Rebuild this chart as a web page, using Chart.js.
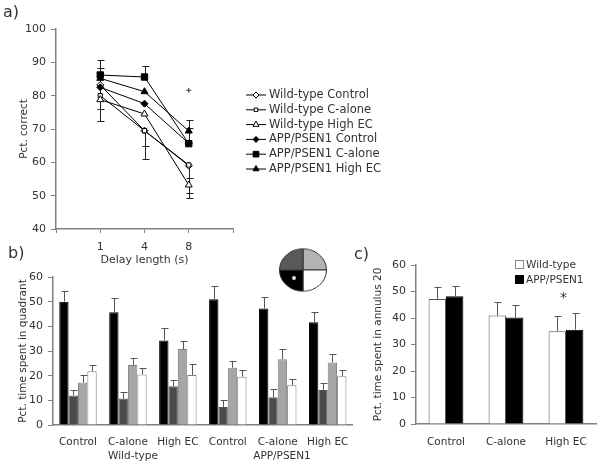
<!DOCTYPE html>
<html>
<head>
<meta charset="utf-8">
<title>Delay and quadrant results</title>
<script src="https://cdn.jsdelivr.net/npm/chart.js@4"></script>
<style>
    html, body { margin: 0; padding: 0; background: #fff; }
    #page { position: relative; width: 601px; height: 465px; overflow: hidden; font-family: "DejaVu Sans", sans-serif; color: #333; }
    canvas { position: absolute; }
    .note { position: absolute; white-space: nowrap; line-height: 1; }
    .panel { font-size: 16px; }
    .small { font-size: 10.5px; }
    .swatch { position: absolute; width: 7px; height: 7px; border: 1px solid #888; }
</style>
</head>
<body>
<div id="page">
    <canvas id="lineChart" width="430" height="272" style="left:0;top:0"></canvas>
    <canvas id="quadrantChart" width="360" height="203" style="left:0;top:262px"></canvas>
    <canvas id="annulusChart" width="241" height="215" style="left:360px;top:250px"></canvas>
    <canvas id="poolChart" width="48" height="48" style="left:279px;top:246px;transform:scaleY(0.9)"></canvas>
    <div id="poolDot" style="position:absolute;left:292px;top:276px;width:4px;height:4px;border-radius:50%;background:#ddd"></div>

    <div class="note panel" style="left:3px;top:4px">a)</div>
    <div class="note panel" style="left:8px;top:245px">b)</div>
    <div class="note panel" style="left:354px;top:246px">c)</div>
    <div class="note small" style="left:133px;top:450px;transform:translateX(-50%)">Wild-type</div>
    <div class="note small" style="left:282px;top:450px;transform:translateX(-50%)">APP/PSEN1</div>
    <div class="swatch" style="left:515px;top:260px;background:#fff"></div>
    <div class="note small" style="left:526px;top:259px">Wild-type</div>
    <div class="swatch" style="left:515px;top:275px;background:#000;border-color:#000"></div>
    <div class="note small" style="left:526px;top:274px">APP/PSEN1</div>
    <div class="note" style="left:560px;top:290px;font-size:14px">*</div>
</div>

<script>
// panel a: delay task
const delayLabels = ["", "1", "4", "8", ""];
const seriesNames = ["Wild-type Control", "Wild-type C-alone", "Wild-type High EC", "APP/PSEN1 Control", "APP/PSEN1 C-alone", "APP/PSEN1 High EC"];
const wtControl = [null, 83.2, 69.5, 59.0, null];
const wtCAlone = [null, 80.0, 69.5, 59.2, null];
const wtHighEc = [null, 78.8, 74.5, 53.2, null];
const appControl = [null, 82.5, 77.6, 65.7, null];
const appCAlone = [null, 86.2, 85.6, 65.6, null];
const appHighEc = [null, 85.2, 81.2, 69.4, null];
const wtControlLow = [null, 76.0, 64.8, 55.3, null];
const wtCAloneLow = [null, 72.3, 61.0, 50.9, null];
const wtHighEcLow = [null, null, null, 49.2, null];
const appControlHigh = [null, 88.2, null, 70.3, null];
const appCAloneHigh = [null, 90.7, 88.8, 72.8, null];
const strayMark = [null, null, null, 81.6, null];

// panel b: quadrant occupancy
const quadrantLabels = ["Control", "C-alone", "High EC", "Control", "C-alone", "High EC"];
const targetQuadrant = [50.0, 45.7, 34.3, 51.0, 47.2, 41.7];
const darkQuadrant = [12.0, 10.7, 15.7, 7.3, 11.2, 14.2];
const midQuadrant = [17.2, 24.3, 30.8, 23.2, 26.7, 25.3];
const lightQuadrant = [21.8, 20.5, 20.3, 19.6, 16.1, 19.8];
const targetTop = [54.5, 51.5, 39.5, 56.5, 52.0, 45.8];
const darkTop = [14.0, 13.2, 18.2, 10.3, 14.4, 17.2];
const midTop = [20.2, 27.3, 33.9, 25.9, 30.8, 28.7];
const lightTop = [24.3, 23.0, 24.7, 22.4, 18.6, 22.2];

// panel c: annulus
const annulusLabels = ["Control", "C-alone", "High EC"];
const annulusWt = [47.2, 40.9, 35.0];
const annulusApp = [48.2, 40.2, 35.6];
const annulusWtTop = [51.7, 45.9, 40.8];
const annulusAppTop = [52.1, 44.8, 41.8];

// pool inset, four equal quadrants
const poolShares = [25, 25, 25, 25];

const textColor = "#333";
const axisColor = "#808080";
const fontFamily = "'DejaVu Sans', sans-serif";
Chart.defaults.font.family = fontFamily;
Chart.defaults.color = textColor;
Chart.defaults.animation = false;

function line(ctx, x1, y1, x2, y2) {
    ctx.beginPath();
    ctx.moveTo(x1, y1);
    ctx.lineTo(x2, y2);
    ctx.stroke();
}

// draws error bars from a value list per dataset index
function errorBars(ends, color, capHalf) {
    return {
        id: "errorBars",
        beforeDatasetsDraw(chart) {
            const ctx = chart.ctx;
            const y = chart.scales.y;
            ctx.save();
            ctx.strokeStyle = color;
            ctx.lineWidth = 1;
            ends.forEach(function (end) {
                const meta = chart.getDatasetMeta(end.dataset);
                end.values.forEach(function (v, i) {
                    if (v === null) return;
                    const x = Math.round(meta.data[i].x) + 0.5;
                    const y1 = Math.round(y.getPixelForValue(v)) + 0.5;
                    const y0 = y.getPixelForValue(chart.data.datasets[end.dataset].data[i]);
                    line(ctx, x, y0, x, y1);
                    line(ctx, x - capHalf, y1, x + capHalf + 1, y1);
                });
            });
            ctx.restore();
        },
    };
}

function fixedScale(width) {
    return function (scale) { scale.width = width; };
}
function fixedHeight(height) {
    return function (scale) { scale.height = height; };
}

function yAxis(max, min, step, title, width) {
    return {
        min: min,
        max: max,
        afterFit: fixedScale(width),
        border: { color: axisColor, width: 1.5 },
        grid: { drawOnChartArea: false, color: axisColor, tickLength: 5, tickWidth: 1 },
        ticks: { stepSize: step, padding: 5, font: { size: 11 }, color: textColor },
        title: { display: true, text: title, font: { size: 10.5 }, color: textColor, padding: 0 },
    };
}

// panel a
const markers = [
    { style: "rectRot", fill: "#fff", radius: 3.5 },
    { style: "rect", fill: "#fff", radius: 3 },
    { style: "triangle", fill: "#fff", radius: 4 },
    { style: "rectRot", fill: "#000", radius: 3.5 },
    { style: "rect", fill: "#000", radius: 4.5 },
    { style: "triangle", fill: "#000", radius: 4 },
];
const lineValues = [wtControl, wtCAlone, wtHighEc, appControl, appCAlone, appHighEc];

const lineLegend = {
    id: "lineLegend",
    afterDraw(chart) {
        const ctx = chart.ctx;
        ctx.save();
        ctx.font = "11.5px " + fontFamily;
        ctx.textBaseline = "middle";
        seriesNames.forEach(function (name, i) {
            const y = 95 + i * 14.8;
            ctx.strokeStyle = "#000";
            ctx.lineWidth = 1;
            line(ctx, 246, y, 266, y);
            ctx.fillStyle = markers[i].fill;
            Chart.helpers.drawPoint(ctx, { pointStyle: markers[i].style, radius: markers[i].radius - 0.5, rotation: 0, borderWidth: 1 }, 256, y);
            ctx.fillStyle = textColor;
            ctx.fillText(name, 269, y);
        });
        ctx.restore();
    },
};

const lineDatasets = lineValues.map(function (values, i) {
    return {
        label: seriesNames[i],
        data: values,
        order: lineValues.length - i,
        borderColor: "#000",
        borderWidth: 1,
        pointStyle: markers[i].style,
        pointRadius: markers[i].radius,
        pointBorderWidth: 1,
        pointBorderColor: "#000",
        pointBackgroundColor: markers[i].fill,
    };
});
lineDatasets.push({
    label: "stray",
    data: strayMark,
    showLine: false,
    order: 0,
    pointStyle: "cross",
    pointRadius: 2.5,
    pointBorderWidth: 1,
    pointBorderColor: "#333",
});

new Chart(document.getElementById("lineChart"), {
    type: "line",
    data: { labels: delayLabels, datasets: lineDatasets },
    plugins: [
        errorBars([
            { dataset: 0, values: wtControlLow },
            { dataset: 1, values: wtCAloneLow },
            { dataset: 2, values: wtHighEcLow },
            { dataset: 3, values: appControlHigh },
            { dataset: 4, values: appCAloneHigh },
        ], "#222", 3),
        lineLegend,
    ],
    options: {
        responsive: false,
        layout: { autoPadding: false, padding: { left: 18, top: 29, right: 197, bottom: 5 } },
        plugins: { legend: { display: false }, tooltip: { enabled: false } },
        scales: {
            x: {
                offset: false,
                afterFit: fixedHeight(38),
                border: { color: axisColor, width: 1.5 },
                grid: { drawOnChartArea: false, color: axisColor, tickLength: 4 },
                ticks: { padding: 8, font: { size: 11 }, color: textColor, maxRotation: 0, autoSkip: false },
                title: { display: true, text: "Delay length (s)", font: { size: 11 }, color: textColor, padding: 0 },
            },
            y: yAxis(100, 40, 10, "Pct. correct", 38),
        },
    },
});

// panel b
function bars(values, fill, border) {
    return {
        data: values,
        backgroundColor: fill,
        borderColor: border,
        borderWidth: 1,
        categoryPercentage: 0.75,
        barPercentage: 1,
    };
}

new Chart(document.getElementById("quadrantChart"), {
    type: "bar",
    data: {
        labels: quadrantLabels,
        datasets: [
            bars(targetQuadrant, "#000", "#000"),
            bars(darkQuadrant, "#4a4a4a", "#555"),
            bars(midQuadrant, "#a6a6a6", "#808080"),
            bars(lightQuadrant, "#fff", "#808080"),
        ],
    },
    plugins: [
        errorBars([
            { dataset: 0, values: targetTop },
            { dataset: 1, values: darkTop },
            { dataset: 2, values: midTop },
            { dataset: 3, values: lightTop },
        ], "#555", 3),
    ],
    options: {
        responsive: false,
        layout: { autoPadding: false, padding: { left: 17, top: 15, right: 7, bottom: 0 } },
        plugins: { legend: { display: false }, tooltip: { enabled: false } },
        scales: {
            x: {
                afterFit: fixedHeight(40),
                border: { color: axisColor, width: 1.5 },
                grid: { drawOnChartArea: false, drawTicks: false },
                ticks: { padding: 11, font: { size: 10.5 }, color: textColor, maxRotation: 0, autoSkip: false },
            },
            y: yAxis(60, 0, 10, "Pct. time spent in quadrant", 36),
        },
    },
});

// panel c
new Chart(document.getElementById("annulusChart"), {
    type: "bar",
    data: {
        labels: annulusLabels,
        datasets: [
            { label: "Wild-type", data: annulusWt, backgroundColor: "#fff", borderColor: "#555", borderWidth: 1, categoryPercentage: 0.58, barPercentage: 1 },
            { label: "APP/PSEN1", data: annulusApp, backgroundColor: "#000", borderColor: "#000", borderWidth: 1, categoryPercentage: 0.58, barPercentage: 1 },
        ],
    },
    plugins: [
        errorBars([
            { dataset: 0, values: annulusWtTop },
            { dataset: 1, values: annulusAppTop },
        ], "#555", 3),
    ],
    options: {
        responsive: false,
        layout: { autoPadding: false, padding: { left: 12, top: 15, right: 5, bottom: 0 } },
        plugins: { legend: { display: false }, tooltip: { enabled: false } },
        scales: {
            x: {
                afterFit: fixedHeight(41),
                border: { color: axisColor, width: 1.5 },
                grid: { drawOnChartArea: false, drawTicks: false },
                ticks: { padding: 12, font: { size: 10.5 }, color: textColor, maxRotation: 0, autoSkip: false },
            },
            y: yAxis(60, 0, 10, "Pct. time spent in annulus 20", 44),
        },
    },
});

// pool inset
new Chart(document.getElementById("poolChart"), {
    type: "pie",
    data: {
        datasets: [{
            data: poolShares,
            backgroundColor: ["#b3b3b3", "#fff", "#000", "#595959"],
            borderColor: "#333",
            borderWidth: 1,
        }],
    },
    options: {
        responsive: false,
        plugins: { legend: { display: false }, tooltip: { enabled: false } },
    },
});
</script>
</body>
</html>
